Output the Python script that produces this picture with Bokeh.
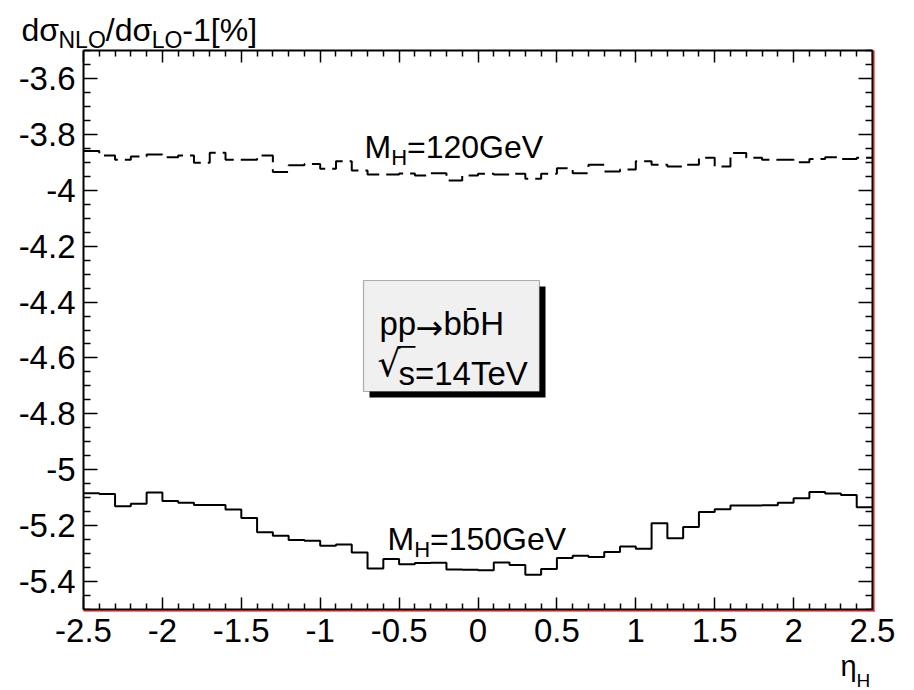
import numpy as np
from bokeh.plotting import figure
from bokeh.models import (LinearAxis, FixedTicker, CustomJSTickFormatter, Label,
                          BoxAnnotation, Range1d)
from bokeh.embed import file_html
from bokeh.resources import INLINE

# ---- data -------------------------------------------------------------
# bin edges in eta_H (50 bins of width 0.1)
eta_edges = np.round(np.linspace(-2.5, 2.5, 51), 2).tolist()

# relative NLO correction [%], M_H = 120 GeV (dashed)
mh120 = [-3.860, -3.876, -3.891, -3.879, -3.872, -3.882, -3.876, -3.902, -3.866, -3.891,
         -3.891, -3.876, -3.935, -3.911, -3.906, -3.923, -3.896, -3.929, -3.944, -3.944,
         -3.940, -3.947, -3.939, -3.965, -3.947, -3.941, -3.944, -3.941, -3.959, -3.941,
         -3.921, -3.939, -3.909, -3.933, -3.926, -3.896, -3.909, -3.915, -3.909, -3.884,
         -3.915, -3.867, -3.884, -3.891, -3.891, -3.900, -3.888, -3.882, -3.888, -3.884]

# relative NLO correction [%], M_H = 150 GeV (solid)
mh150 = [-5.084, -5.087, -5.131, -5.122, -5.081, -5.112, -5.118, -5.126, -5.126, -5.142,
         -5.173, -5.224, -5.236, -5.251, -5.254, -5.272, -5.267, -5.296, -5.353, -5.319,
         -5.338, -5.334, -5.333, -5.357, -5.358, -5.360, -5.332, -5.341, -5.376, -5.355,
         -5.316, -5.308, -5.312, -5.294, -5.275, -5.283, -5.191, -5.245, -5.205, -5.151,
         -5.141, -5.128, -5.128, -5.127, -5.118, -5.102, -5.080, -5.085, -5.090, -5.134]

x_major = [-2.5, -2.0, -1.5, -1.0, -0.5, 0.0, 0.5, 1.0, 1.5, 2.0, 2.5]
y_major = [-5.4, -5.2, -5.0, -4.8, -4.6, -4.4, -4.2, -4.0, -3.8, -3.6]

x_minor = [v for v in np.round(np.arange(-2.5, 2.5001, 0.1), 2).tolist() if v not in x_major]
y_minor = [v for v in np.round(np.arange(-5.5, -3.4999, 0.05), 2).tolist() if v not in y_major]

XR = (-2.5, 2.5)
YR = (-5.5, -3.5)

# ---- layout -----------------------------------------------------------
W, H = 914, 690
FL, FR, FT, FB = 83, 872, 50, 609   # histogram frame in page pixels
FONT = "Liberation Sans"
SYM = "DejaVu Sans"


def dx(px):
    return XR[0] + (px - FL) * (XR[1] - XR[0]) / (FR - FL)


def dy(py):
    return YR[1] - (py - FT) * (YR[1] - YR[0]) / (FB - FT)


# the plotting area spans the whole page; axes sit on the histogram frame
p = figure(width=W, height=H, output_backend="svg", toolbar_location=None,
           x_range=Range1d(dx(0), dx(W)), y_range=Range1d(dy(H), dy(0)),
           x_axis_type=None, y_axis_type=None, min_border=0)
p.min_border_left = p.min_border_right = p.min_border_top = p.min_border_bottom = 0
p.background_fill_color = "white"
p.border_fill_color = "white"
p.outline_line_color = None
p.grid.visible = False

fmt = CustomJSTickFormatter(code="return (Math.round(tick*100)/100).toString();")
blank = CustomJSTickFormatter(code="return '';")


def make_axis(major, minor, bounds, loc, major_len, minor_len, labels, standoff):
    ax = LinearAxis(ticker=FixedTicker(ticks=major, minor_ticks=minor))
    ax.bounds = bounds
    ax.fixed_location = loc
    ax.major_tick_in = major_len
    ax.major_tick_out = 0
    ax.minor_tick_in = minor_len
    ax.minor_tick_out = 0
    ax.major_tick_line_color = "black"
    ax.minor_tick_line_color = "black"
    ax.major_tick_line_width = 1.5
    ax.minor_tick_line_width = 1.5
    ax.axis_line_color = "black"
    ax.axis_line_width = 2
    ax.major_label_text_font = FONT
    ax.major_label_text_font_size = "33px" if labels else "0px"
    ax.major_label_text_color = "black"
    ax.major_label_standoff = standoff
    ax.formatter = fmt if labels else blank
    return ax


p.add_layout(make_axis(x_major, x_minor, XR, YR[0], 12, 6, True, 9), "below")
p.add_layout(make_axis(x_major, x_minor, XR, YR[1], 12, 6, False, 0), "above")
p.add_layout(make_axis(y_major, y_minor, YR, XR[0], 14, 7, True, 8), "left")
p.add_layout(make_axis(y_major, y_minor, YR, XR[1], 14, 7, False, 0), "right")

# thin red edge along the bottom and right of the frame
p.add_layout(BoxAnnotation(left=dx(FL), right=dx(FR + 2), top=dy(FB + 0.8), bottom=dy(FB + 2),
                           fill_color="#dd0000", fill_alpha=1, line_color=None))
p.add_layout(BoxAnnotation(left=dx(FR + 0.8), right=dx(FR + 2), top=dy(FT), bottom=dy(FB + 2),
                           fill_color="#dd0000", fill_alpha=1, line_color=None))

# ---- histograms -------------------------------------------------------
p.step(eta_edges, mh120 + [mh120[-1]], mode="after", line_color="black",
       line_width=2, line_dash="18 7")
p.step(eta_edges, mh150 + [mh150[-1]], mode="after", line_color="black",
       line_width=2)


# ---- texts ------------------------------------------------------------
ADV = {"d": .556, "σ": .60, "N": .722, "L": .556, "O": .778, "/": .278, "-": .333,
       "1": .556, "[": .278, "%": .889, "]": .278, "M": .833, "H": .722}


def width(text, size):
    return sum(ADV.get(c, .556) for c in text) * size


def lab(px, py, text, size, font=FONT):
    p.add_layout(Label(x=dx(px), y=dy(py), text=text, text_font=font,
                       text_font_size=f"{size}px", text_color="black",
                       text_align="left", text_baseline="alphabetic"))


def runs(px, py, pieces, big, small, drop):
    """pieces: list of (text, is_subscript)"""
    x = px
    for text, sub in pieces:
        size = small if sub else big
        lab(x, py + (drop if sub else 0), text, size)
        x += width(text, size)


# y title (top left): dσ_NLO/dσ_LO-1[%]
runs(21, 29, [("dσ", False), ("NLO", True), ("/dσ", False), ("LO", True), ("-1[%]", False)],
     32, 23, 10)

# x title: η_H
runs(840, 665, [("η", False), ("H", True)], 29, 19, 15)

# curve labels
runs(364, 146, [("M", False), ("H", True), ("=120GeV", False)], 32, 22, 11)
runs(387, 538, [("M", False), ("H", True), ("=150GeV", False)], 32, 22, 11)

# info box with shadow
p.add_layout(BoxAnnotation(left=dx(369), right=dx(545), top=dy(286), bottom=dy(397),
                           fill_color="black", fill_alpha=1, line_color=None))
p.add_layout(BoxAnnotation(left=dx(363), right=dx(539), top=dy(280), bottom=dy(391),
                           fill_color="#f0f0f0", fill_alpha=1, line_color="black",
                           line_width=1.2))
lab(379, 323, "pp", 33)
lab(415, 327, "→", 33, SYM)
lab(443, 323, "bb̄H", 33)

lab(377, 363, "√", 36, SYM)
lab(398, 373, "s=14TeV", 33)
# vinculum of the square root
p.add_layout(BoxAnnotation(left=dx(397), right=dx(415), top=dy(345.5), bottom=dy(347.3),
                           fill_color="black", fill_alpha=1, line_color=None))

open("out.html", "w").write(file_html(p, INLINE))
